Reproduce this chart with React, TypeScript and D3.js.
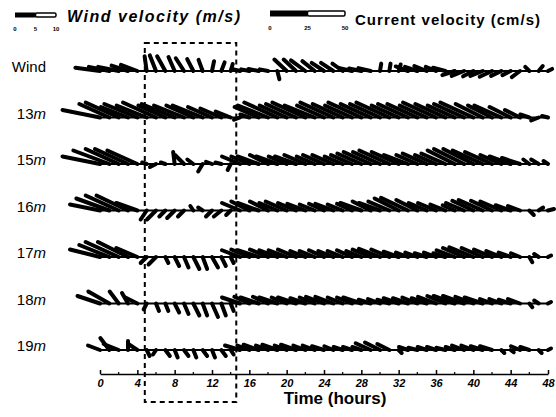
import React, { useEffect, useRef } from 'react';
import * as d3 from 'd3';

const font = 'Liberation Sans, Arial, sans-serif';

// rows, top to bottom
const rowNames = ['Wind', '13m', '15m', '16m', '17m', '18m', '19m'];

// hourly samples, hours 0..48
const hours = d3.range(0, 49);
const tickHours = [0, 4, 8, 12, 16, 20, 24, 28, 32, 36, 40, 44, 48];
const minorHours = [2, 6, 10, 14, 18, 22, 26, 30, 34, 38, 42, 46];
const highlight = [4.8, 14.6]; // dashed window, hours

// wind (m/s): east and north components
const windU = [-6, -5, -5, -4, -4, -0.5, -1.5, -2, -1.5, -2, -1.5, -1, 0.5, 0.8, 0.5, -2, -2, -2.5, -2, 0.5, -3, -3, -3.5, -3, -3, -3, -2.5, -3, -3, -3, 0.3, 0.3, 0.5, -3, -3, -3, -2.5, -3, -3, -3, -2.5, -3, -3, -2.5, -2, -2, -1, 1, 1];
const windV = [0.8, 1, 1, 1.3, 1.5, 3.6, 3.8, 3.6, 3.4, 3.1, 2.9, 2.7, 2.4, 2.1, 1.7, 0.5, 0.4, 0.5, 0.4, -2, 2.8, 2.8, 2.6, 2.4, 2, 2, 1.8, 0.7, 0.6, 0.7, 1.8, 1.8, 1.6, 1.1, 1, 1.2, 1, 0.8, -1, -1.2, -1.3, -1.2, -1.4, -1.2, -1, -1.5, 1, 1.2, 0.5];

// currents (cm/s) by depth
const u13 = [-25, -20, -22, -18, -22, -20, -22, -18, -22, -20, -18, -20, -16, -14, -10, -4, -6, -16, -20, -22, -18, -20, -22, -20, -18, -22, -20, -18, -22, -20, -20, -22, -18, -20, -20, -18, -22, -20, -18, -20, -22, -18, -16, -18, -14, -10, -6, -5, -4];
const v13 = [5, 9, 10, 7, 9, 8, 10, 8, 9, 8, 8, 8, 7, 6, 4, -1.5, 2, 7, 8, 10, 8, 9, 10, 8, 8, 10, 9, 8, 10, 9, 9, 10, 8, 9, 9, 8, 10, 9, 8, 9, 10, 9, 8, 8, 7, 5, 2, -2, 1];

const u15 = [-25, -24, -22, -22, -20, -3, -4, -3, -1, -6, -4, -3, -4, -4, -2, -12, -12, -14, -12, -14, -12, -14, -14, -12, -14, -14, -12, -14, -16, -18, -18, -20, -18, -16, -14, -16, -14, -16, -18, -20, -20, -20, -18, -14, -14, -12, -4, -5, -3];
const v15 = [5, 9, 10, 10, 9, 1, -2, 1, 8, 6, 3, -5, 1.5, 1, -4, 5, 5, 5, 6, 5, 5, 5, 6, 5, 6, 6, 5, 6, 7, 8, 8, 9, 8, 6, 6, 7, 6, 7, 9, 10, 10, 9, 8, 6, 5, 4, 3, 3, 2];

const u16 = [-20, -22, -22, -21, -14, -4, -6, -4, -5, -4, -2, -3, -4, -5, -3, -12, -12, -14, -12, -12, -14, -12, -12, -10, -10, -12, -10, -10, -14, -12, -14, -14, -16, -18, -14, -12, -12, -10, -8, -12, -14, -16, -14, -14, -10, -8, 3, 3, 4];
const v16 = [4, 8, 10, 10, 5, -6, -6, -4, -5, -4, 3, 2, -4, -4, -3, 5, 6, 5, 6, 5, 6, 5, 4.5, 4, 4.5, 4.5, 4, 4.5, 5, 6, 5, 6, 8, 8.5, 7, 5, 5, 4, 3.5, 5, 6.5, 7, 6.5, 6, 3.5, 3, -3, 2, 1];

const u17 = [-20, -20, -22, -20, -14, -4, -5, 2, 3, 3, 4, 3, 4, 3, 2, -12, -12, -14, -12, -12, -12, -12, -10, -10, -10, -10, -10, -10, -10, -12, -14, -12, -10, -8, -8, -8, -8, -8, -12, -14, -16, -14, -12, -10, -8, -6, 2, -3, 2];
const v17 = [5, 8, 10, 10, 6, -4, -5, -4, -6, -7, -8, -8, -7, -6, -4, 4.5, 5, 4.5, 5, 4.5, 4.5, 5, 4, 4, 4.5, 4, 4, 4.5, 4, 5, 5.5, 5, 3.5, 3, 3, 2.5, 3, 2.5, 4.5, 6, 6.5, 6, 5, 4, 3, 2.5, -3.5, 2, 1];

const u18 = [-15, -14, -6, -4, -8, -2, 2, 2, 3, 3, 4, 3, 4, 3, 2, -12, -10, -12, -10, -12, -10, -12, -10, -10, -12, -12, -10, -10, -12, -8, -8, -8, -10, -10, -10, -10, -12, -12, -14, -14, -12, -12, -8, -8, -8, -8, 2, -3, 2];
const v18 = [5, 8, 8, 7, 4, -4, -5, -5, -6, -7, -8, -8, -9, -8, -5, 4, 4.5, 4, 4.5, 4, 4, 4, 3.5, 4, 4.5, 4.5, 4, 4, 4, 2.5, 3, 2.5, 3.5, 3.5, 4, 3.5, 4.5, 5, 5, 5, 4.5, 4, 3, 3, 2.5, 3, -2.5, 2, 1];

const u19 = [-8, -6, -10, 0, -6, 2, -2, 3, 2, 3, 2, 3, 2, 3, 2, -10, -8, -10, -8, -10, -8, -10, -8, -8, -8, -6, -6, -6, -6, -10, -10, -8, 2, -6, -6, -6, -6, -6, -6, -8, -8, -8, -8, 2, 2, -6, -6, 2, 2];
const v19 = [3, 8, 4, 6, 4, -4, -3, -4, -5, -4, -5, -4, -5, -4, -3, 3, 3, 3.5, 3, 3.5, 3, 3.5, 3, 3, 2.5, 2.5, 2, 2, 2, 4.5, 5, 4, -2, 2, 1.5, 2, 2, 1.5, 2, 3, 3, 2.5, 2.5, -2, -1.5, 2.5, 2, -2, 1];

const windTicks = [0, 5, 10];
const currentTicks = [0, 25, 50];

const windK = 4.1; // px per m/s
const curK = 1.5; // px per cm/s

const rows = [
    { name: 'Wind', u: windU, v: windV, k: windK },
    { name: '13m', u: u13, v: v13, k: curK },
    { name: '15m', u: u15, v: v15, k: curK },
    { name: '16m', u: u16, v: v16, k: curK },
    { name: '17m', u: u17, v: v17, k: curK },
    { name: '18m', u: u18, v: v18, k: curK },
    { name: '19m', u: u19, v: v19, k: curK },
];

const x = d3.scaleLinear().domain([0, 48]).range([100, 548]);
const rowY = d3.scalePoint<string>().domain(rowNames).range([71, 350]);
const windLegend = d3.scaleLinear().domain([0, 10]).range([15, 15 + 10 * windK]);
const curLegend = d3.scaleLinear().domain([0, 50]).range([270, 270 + 50 * curK]);

const axisY = 374;

export default function App() {
    const axisRef = useRef<SVGGElement>(null);

    useEffect(() => {
        const g = d3.select(axisRef.current);
        g.call(
            d3.axisBottom(x)
                .tickValues(tickHours)
                .tickSizeInner(-4)
                .tickSizeOuter(0)
                .tickPadding(5)
                .tickFormat(d3.format('d'))
        );
        g.attr('font-family', font).attr('font-size', 11);
        g.select('.domain').attr('stroke-width', 1.5);
        g.selectAll('.tick line').attr('stroke-width', 1.5);
        g.selectAll('.tick text')
            .attr('font-weight', 'bold')
            .attr('font-style', 'italic');
    }, []);

    return (
        <svg width={556} height={417} style={{ position: 'absolute', left: 0, top: 0, background: '#fff' }}
            fontFamily={font}>
            {/* legends */}
            <g>
                <rect x={windLegend(0)} y={12.5} width={windLegend(5) - windLegend(0)} height={5} fill="#000" />
                <rect x={windLegend(5)} y={13} width={windLegend(10) - windLegend(5)} height={4}
                    fill="#fff" stroke="#000" strokeWidth={1.5} rx={1.5} />
                {windTicks.map((d) => (
                    <text key={d} x={windLegend(d)} y={31} fontSize={6} fontWeight="bold" textAnchor="middle">{d}</text>
                ))}
                <text x={67} y={22} fontSize={16} fontWeight="bold" fontStyle="italic" textLength={173}>
                    Wind velocity (m/s)
                </text>

                <rect x={curLegend(0)} y={10.5} width={curLegend(25) - curLegend(0)} height={6} fill="#000" />
                <rect x={curLegend(25)} y={11} width={curLegend(50) - curLegend(25)} height={5}
                    fill="#fff" stroke="#000" strokeWidth={1.5} rx={1.5} />
                {currentTicks.map((d) => (
                    <text key={d} x={curLegend(d)} y={30} fontSize={6} fontWeight="bold" textAnchor="middle">{d}</text>
                ))}
                <text x={355} y={25} fontSize={15} fontWeight="bold" textLength={185}>
                    Current velocity (cm/s)
                </text>
            </g>

            {/* stick rows */}
            {rows.map((r) => {
                const y0 = rowY(r.name)!;
                return (
                    <g key={r.name}>
                        <text x={46} y={y0 + 1} fontSize={15} textAnchor="end">
                            {r.name === 'Wind' ? 'Wind' : (
                                <>{r.name.slice(0, 2)}<tspan fontStyle="italic">m</tspan></>
                            )}
                        </text>
                        <line x1={x(0)} x2={x(48)} y1={y0} y2={y0} stroke="#000" strokeWidth={2} />
                        {hours.map((t, i) => (
                            <line key={t}
                                x1={x(t)} y1={y0}
                                x2={x(t) + r.u[i] * r.k} y2={y0 - r.v[i] * r.k}
                                stroke="#000" strokeWidth={4} strokeLinecap="round" />
                        ))}
                    </g>
                );
            })}

            {/* dashed window */}
            <rect x={x(highlight[0])} y={43} width={x(highlight[1]) - x(highlight[0])} height={359}
                fill="none" stroke="#000" strokeWidth={2} strokeDasharray="5,4" />

            {/* time axis */}
            <g ref={axisRef} transform={`translate(0, ${axisY})`} />
            {minorHours.map((t) => (
                <line key={t} x1={x(t)} x2={x(t)} y1={axisY} y2={axisY - 2} stroke="#000" strokeWidth={1.2} />
            ))}
            <text x={335} y={404} fontSize={17} fontWeight="bold" textAnchor="middle">Time (hours)</text>
        </svg>
    );
}
